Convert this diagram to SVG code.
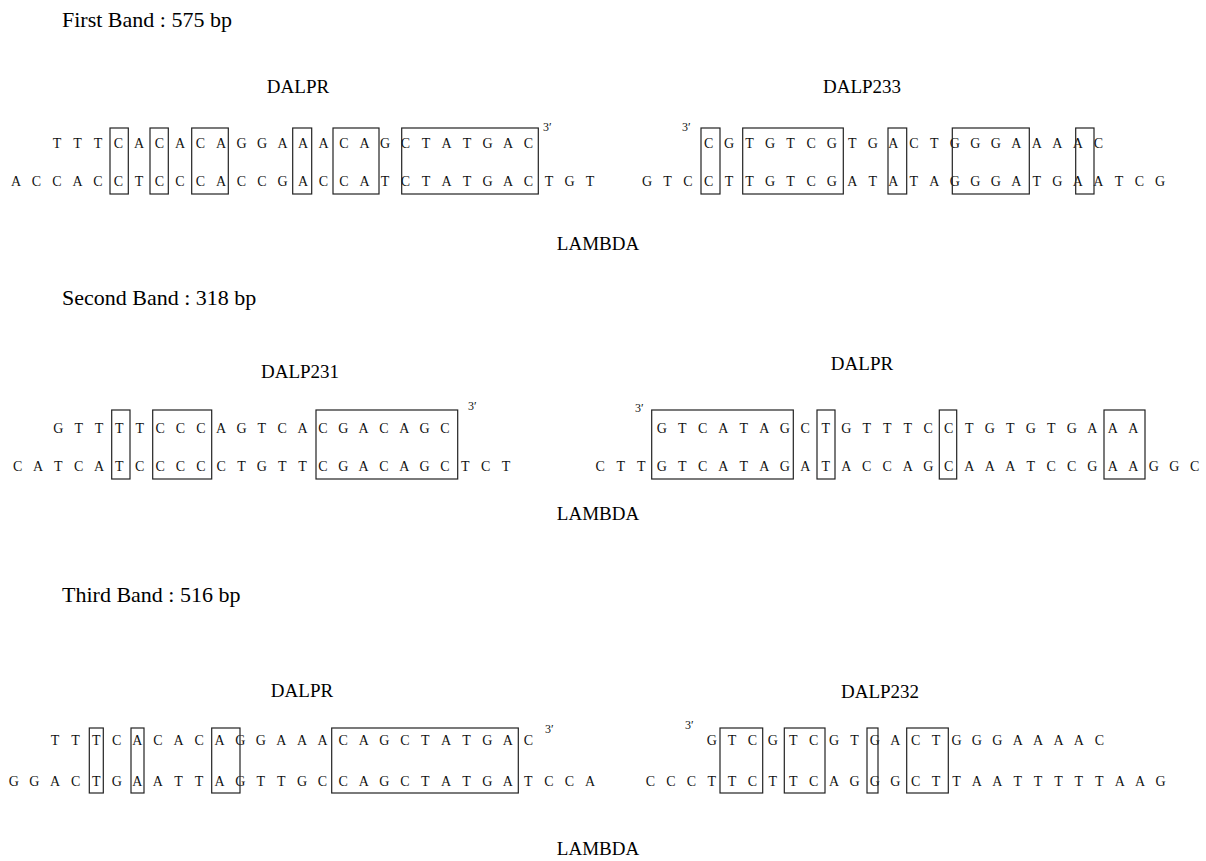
<svg xmlns="http://www.w3.org/2000/svg" width="1206" height="861" viewBox="0 0 1206 861">
<style>
.title{font-family:"Liberation Serif",serif;font-size:22px;fill:#000}
.lbl{font-family:"Liberation Serif",serif;font-size:19px;fill:#000;text-anchor:middle}
.seq{font-family:"Liberation Serif",serif;font-size:14px;fill:#111;text-anchor:middle}
.prime{font-family:"Liberation Serif",serif;font-size:12px;fill:#111}
.box{fill:none;stroke:#222;stroke-width:1.2}
</style>
<rect width="1206" height="861" fill="#fff"/>

<g id="band1">
<text class="title" x="62" y="27">First Band : 575 bp</text>
<text class="lbl" x="298" y="93">DALPR</text>
<text class="lbl" x="862" y="93">DALP233</text>
<text class="lbl" x="598" y="250">LAMBDA</text>
<g id="b1-left">
<text class="seq" y="148" x="57 77.5 98 118.5 139 159.5 180 200.5 221 241.5 262 282.5 303 323.5 344 364.5 385 405.5 426 446.5 467 487.5 508 528.5">TTTCACACAGGAAACAGCTATGAC</text>
<text class="seq" y="186" x="16 36.5 57 77.5 98 118.5 139 159.5 180 200.5 221 241.5 262 282.5 303 323.5 344 364.5 385 405.5 426 446.5 467 487.5 508 528.5 549 569.5 590">ACCACCTCCCACCGACCATCTATGACTGT</text>
<text class="prime" x="543" y="131">3′</text>
<g class="box">
<rect x="110" y="128" width="18.3" height="66"/>
<rect x="150" y="128" width="18.3" height="66"/>
<rect x="191.7" y="128" width="36.6" height="66"/>
<rect x="292.7" y="128" width="19" height="66"/>
<rect x="333" y="128" width="46" height="66"/>
<rect x="401.7" y="128" width="136.6" height="66"/>
</g>
</g>
<g id="b1-right">
<text class="seq" y="148" x="708.6 729.1 749.6 770.1 790.6 811.2 831.7 852.2 872.7 893.2 913.8 934.3 954.8 975.3 995.8 1016.4 1036.9 1057.4 1077.9 1098.4">CGTGTCGTGACTGGGAAAAC</text>
<text class="seq" y="186" x="647 667.5 688 708.6 729.1 749.6 770.1 790.6 811.2 831.7 852.2 872.7 893.2 913.8 934.3 954.8 975.3 995.8 1016.4 1036.9 1057.4 1077.9 1098.4 1119 1139.5 1160">GTCCTTGTCGATATAGGGATGAATCG</text>
<text class="prime" x="682" y="131">3′</text>
<g class="box">
<rect x="701" y="128" width="19" height="66"/>
<rect x="742.7" y="128" width="100.6" height="66"/>
<rect x="888" y="128" width="18.7" height="66"/>
<rect x="952.3" y="128" width="77" height="66"/>
<rect x="1075.7" y="128" width="18.3" height="66"/>
</g>
</g>
</g>

<g id="band2">
<text class="title" x="62" y="305">Second Band : 318 bp</text>
<text class="lbl" x="300" y="378">DALP231</text>
<text class="lbl" x="862" y="370">DALPR</text>
<text class="lbl" x="598" y="520">LAMBDA</text>
<g id="b2-left">
<text class="seq" y="433" x="58.3 78.7 99 119.4 139.7 160.1 180.4 200.8 221.1 241.5 261.8 282.2 302.5 322.9 343.2 363.6 383.9 404.3 424.6 445">GTTTTCCCAGTCACGACAGC</text>
<text class="seq" y="471" x="17.6 38 58.3 78.7 99 119.4 139.7 160.1 180.4 200.8 221.1 241.5 261.8 282.2 302.5 322.9 343.2 363.6 383.9 404.3 424.6 445 465.3 485.7 506">CATCATCCCCCTGTTCGACAGCTCT</text>
<text class="prime" x="468" y="410">3′</text>
<g class="box">
<rect x="111.7" y="410" width="18.3" height="69"/>
<rect x="152.7" y="410" width="59" height="69"/>
<rect x="316" y="410" width="141.7" height="69"/>
</g>
</g>
<g id="b2-right">
<text class="seq" y="433" x="661.7 682.2 702.7 723.2 743.7 764.2 784.7 805.2 825.7 846.2 866.7 887.2 907.7 928.2 948.7 969.2 989.7 1010.2 1030.7 1051.2 1071.7 1092.2 1112.7 1133.2">GTCATAGCTGTTTCCTGTGTGAAA</text>
<text class="seq" y="471" x="600.2 620.7 641.2 661.7 682.2 702.7 723.2 743.7 764.2 784.7 805.2 825.7 846.2 866.7 887.2 907.7 928.2 948.7 969.2 989.7 1010.2 1030.7 1051.2 1071.7 1092.2 1112.7 1133.2 1153.7 1174.2 1194.7">CTTGTCATAGATACCAGCAAATCCGAAGGC</text>
<text class="prime" x="635" y="412">3′</text>
<g class="box">
<rect x="651.7" y="410" width="141.6" height="69"/>
<rect x="817" y="410" width="18" height="69"/>
<rect x="939.3" y="410" width="17.4" height="69"/>
<rect x="1104" y="410" width="41" height="69"/>
</g>
</g>
</g>

<g id="band3">
<text class="title" x="62" y="602">Third Band : 516 bp</text>
<text class="lbl" x="302" y="697">DALPR</text>
<text class="lbl" x="880" y="698">DALP232</text>
<text class="lbl" x="598" y="855">LAMBDA</text>
<g id="b3-left">
<text class="seq" y="745" x="55 75.6 96.2 116.7 137.3 157.9 178.5 199.1 219.6 240.2 260.8 281.4 302 322.5 343.1 363.7 384.3 404.9 425.4 446 466.6 487.2 507.8 528.3">TTTCACACAGGAAACAGCTATGAC</text>
<text class="seq" y="786" x="13.8 34.4 55 75.6 96.2 116.7 137.3 157.9 178.5 199.1 219.6 240.2 260.8 281.4 302 322.5 343.1 363.7 384.3 404.9 425.4 446 466.6 487.2 507.8 528.3 548.9 569.5 590.1">GGACTGAATTAGTTGCCAGCTATGATCCA</text>
<text class="prime" x="545" y="733">3′</text>
<g class="box">
<rect x="89.3" y="728" width="14" height="65"/>
<rect x="131" y="728" width="13" height="65"/>
<rect x="211.7" y="728" width="28.3" height="65"/>
<rect x="331.7" y="728" width="186.6" height="65"/>
</g>
</g>
<g id="b3-right">
<text class="seq" y="745" x="711.7 732.1 752.5 772.9 793.3 813.7 834.1 854.5 874.9 895.3 915.7 936.1 956.5 976.9 997.3 1017.7 1038.1 1058.5 1078.9 1099.3">GTCGTCGTGACTGGGAAAAC</text>
<text class="seq" y="786" x="650.5 670.9 691.3 711.7 732.1 752.5 772.9 793.3 813.7 834.1 854.5 874.9 895.3 915.7 936.1 956.5 976.9 997.3 1017.7 1038.1 1058.5 1078.9 1099.3 1119.7 1140.1 1160.5">CCCTTCTTCAGGGCTTAATTTTTAAG</text>
<text class="prime" x="685" y="729">3′</text>
<g class="box">
<rect x="720" y="728" width="42.7" height="65"/>
<rect x="784.3" y="728" width="40.7" height="65"/>
<rect x="867" y="728" width="11" height="65"/>
<rect x="906.7" y="728" width="41.6" height="65"/>
</g>
</g>
</g>
</svg>
